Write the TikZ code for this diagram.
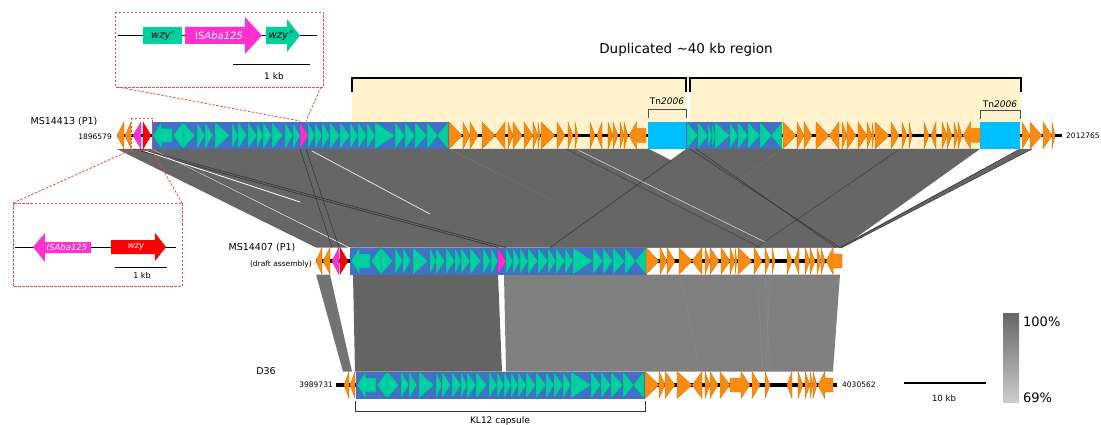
\documentclass[tikz,border=0pt]{standalone}
\usepackage{fontspec}
\setmainfont{DejaVu Sans}
\definecolor{ora}{HTML}{F98C10}
\definecolor{oraD}{HTML}{C86A00}
\definecolor{tea}{HTML}{00CFA0}
\definecolor{teaD}{HTML}{1A8C8C}
\definecolor{blu}{HTML}{4270C8}
\definecolor{cya}{HTML}{00BFFF}
\definecolor{mag}{HTML}{FF30D0}
\definecolor{rd}{HTML}{FF0000}
\definecolor{ylw}{HTML}{FFF2CC}
\definecolor{homA}{HTML}{666666}
\definecolor{homB}{HTML}{646464}
\definecolor{homC}{HTML}{808080}
\definecolor{dred}{HTML}{E05050}
\newcommand\gR[4]{\filldraw[#4] ({(#1)},{(#3)-13.5}) -- ({(#2)},{(#3)}) -- ({(#1)},{(#3)+13.5}) -- cycle;}
\newcommand\gL[4]{\filldraw[#4] ({(#2)},{(#3)-13.5}) -- ({(#1)},{(#3)}) -- ({(#2)},{(#3)+13.5}) -- cycle;}
\newcommand\gLA[4]{\filldraw[#4] ({(#1)},{(#3)}) -- ({(#1)+0.45*((#2)-(#1))},{(#3)-13.5}) -- ({(#1)+0.45*((#2)-(#1))},{(#3)-7}) -- ({(#2)},{(#3)-7}) -- ({(#2)},{(#3)+7}) -- ({(#1)+0.45*((#2)-(#1))},{(#3)+7}) -- ({(#1)+0.45*((#2)-(#1))},{(#3)+13.5}) -- cycle;}
\newcommand\gRA[4]{\filldraw[#4] ({(#2)},{(#3)}) -- ({(#2)-0.45*((#2)-(#1))},{(#3)-13.5}) -- ({(#2)-0.45*((#2)-(#1))},{(#3)-7}) -- ({(#1)},{(#3)-7}) -- ({(#1)},{(#3)+7}) -- ({(#2)-0.45*((#2)-(#1))},{(#3)+7}) -- ({(#2)-0.45*((#2)-(#1))},{(#3)+13.5}) -- cycle;}
\def\patAR{449/462,463/470,470/478,482/495,508/513,513/522,524/533,533/538,538/540,541/555,557/565,568/573,575/578,590/595,608/613,613/618,620/624,624/628}
\def\patAL{495/505,597/602}
\def\blAR{183/195,197/205,205/213,215/230,232/238,238/247,248/257,257/263,263/272,272/283,285/293,293/300}
\def\blBR{308/315,315/322,322/330,330/340,340/350,350/358,358/367,367/375,375/395,395/405,405/415,415/427,427/438}
\begin{document}
\begin{tikzpicture}[x=1pt,y=-1pt,
  gora/.style={fill=ora,draw=oraD,line width=0.25pt},
  gtea/.style={fill=tea,draw=teaD,line width=0.3pt},
  gmag/.style={fill=mag,draw=mag!70!black,line width=0.25pt},
  gred/.style={fill=rd,draw=rd!70!black,line width=0.25pt},
  lbl/.style={font=\fontsize{9.5}{11}\selectfont,inner sep=0pt},
  num/.style={font=\fontsize{7.5}{9}\selectfont,inner sep=0pt},
  dashbox/.style={draw=dred,dash pattern=on 2.5pt off 1.5pt,line width=0.9pt},
  bk/.style={draw=black!80,line width=0.5pt},
  wl/.style={draw=white,line width=0.8pt}]
\useasboundingbox (0,0) rectangle (1101,425);
\fill[white] (0,0) rectangle (1101,425);
% duplicated region background
\fill[ylw] (352,78) rectangle (686,149);
\fill[ylw] (690,78) rectangle (1021,149);
% ---------- homology upper ----------
\fill[homA] (117,149) -- (151,149) -- (348,247.5) -- (316,247.5) -- cycle;
\fill[homA] (152,149) -- (449,149) -- (647,247.5) -- (350,247.5) -- cycle;
\fill[homA] (449,149) -- (649,149) -- (842,247.5) -- (646,247.5) -- cycle;
\fill[homA] (686,149) -- (782,149) -- (647,247.5) -- (550,247.5) -- cycle;
\fill[homA] (782,149) -- (980,149) -- (842,247.5) -- (646,247.5) -- cycle;
\fill[homA] (1020,149) -- (1032,149) -- (842,247.5) -- (838,247.5) -- cycle;
\draw[bk,line width=0.6pt] (133,149) -- (498,247.5);
\draw[bk,line width=0.6pt] (140,149) -- (506,247.5);
\draw[bk] (300,149) -- (332,247.5);
\draw[bk] (306,149) -- (339,247.5);
\draw[bk] (672,160) -- (550,247.5);
\draw[bk] (690,149) -- (840,247.5);
\draw[bk] (696,149) -- (836,247.5);
\draw[bk] (1020,149) -- (840,247.5);
\draw[bk] (1032,149) -- (842,247.5);
\draw[bk,line width=0.35pt] (900,149) -- (756,247.5);
\draw[bk,line width=0.35pt] (566,149) -- (760,247.5);
\draw[wl] (145,151) -- (300,202);
\draw[wl,opacity=0.8] (312,151) -- (430,214);
\draw[wl,opacity=0.7,line width=0.6pt] (578,150) -- (765,242);
% ---------- homology lower ----------
\fill[homC!90!black] (316,274.5) -- (330,274.5) -- (352,371.5) -- (343,371.5) -- cycle;
\fill[homB] (353,274.5) -- (498,274.5) -- (502,371.5) -- (355,371.5) -- cycle;
\fill[homC] (504,274.5) -- (840,274.5) -- (833,371.5) -- (506,371.5) -- cycle;
\draw[black!45,line width=0.4pt] (680,274.5) -- (700,371.5);
\draw[black!45,line width=0.4pt] (757,274.5) -- (763,371.5);
\draw[black!45,line width=0.4pt] (765,274.5) -- (770,371.5);
\draw[black!45,line width=0.4pt] (770,274.5) -- (766,371.5);
% ---------- track 1 MS14413 ----------
\draw[line width=3.5pt] (117,135.5) -- (1062,135.5);
\fill[blu] (152,122) rectangle (449,149);
\fill[blu] (686,122) rectangle (782,149);
\fill[cya] (648,122) rectangle (686,149);
\fill[cya] (980,122) rectangle (1020,149);
\gL{117}{124}{135.5}{gora}
\gL{125}{131}{135.5}{gora}
\gL{133}{141}{135.5}{gmag}
\gR{143}{151}{135.5}{gred}
\gLA{153}{172}{135.5}{gtea}
\gL{173}{183}{135.5}{gtea}
\foreach \a/\b in \blAR {\gR{\a}{\b}{135.5}{gtea}}
\gR{300}{308}{135.5}{gmag}
\foreach \a/\b in \blBR {\gR{\a}{\b}{135.5}{gtea}}
\gL{437}{448}{135.5}{gtea}
\foreach \a/\b in {687/698,698/708,708/712,712/715,715/730,730/738,738/748,748/760,760/772} {\gR{\a}{\b}{135.5}{gtea}}
\gL{771}{782}{135.5}{gtea}
\foreach \a/\b in \patAR {\gR{\a}{\b}{135.5}{gora}}
\foreach \a/\b in \patAL {\gL{\a}{\b}{135.5}{gora}}
\gLA{629}{646}{135.5}{gora}
\foreach \a/\b in \patAR {\gR{\a+334}{\b+334}{135.5}{gora}}
\foreach \a/\b in \patAL {\gL{\a+334}{\b+334}{135.5}{gora}}
\gLA{963}{980}{135.5}{gora}
\foreach \a/\b in {1022/1030,1030/1042,1043/1052,1052/1055} {\gR{\a}{\b}{135.5}{gora}}
% ---------- track 2 MS14407 ----------
\draw[line width=3.5pt] (316,261) -- (840,261);
\fill[blu] (350,247.5) rectangle (647,274.5);
\gL{316}{322}{261}{gora}
\gL{323}{330}{261}{gora}
\gL{332}{339}{261}{gmag}
\gR{340}{348}{261}{gred}
\gLA{351}{370}{261}{gtea}
\gL{371}{381}{261}{gtea}
\foreach \a/\b in \blAR {\gR{\a+198}{\b+198}{261}{gtea}}
\gR{498}{506}{261}{gmag}
\foreach \a/\b in \blBR {\gR{\a+198}{\b+198}{261}{gtea}}
\gL{635}{646}{261}{gtea}
\foreach \a/\b in \patAR {\gR{\a+197}{\b+197}{261}{gora}}
\foreach \a/\b in \patAL {\gL{\a+197}{\b+197}{261}{gora}}
\gLA{826}{842}{261}{gora}
% ---------- track 3 D36 ----------
\draw[line width=3.5pt] (336,385) -- (837,385);
\fill[blu] (356,371.5) rectangle (645,398.5);
\gL{344}{349}{385}{gora}
\gL{350}{355}{385}{gora}
\gLA{357}{376}{385}{gtea}
\gL{377}{387}{385}{gtea}
\foreach \a/\b in \blAR {\gR{\a+204}{\b+204}{385}{gtea}}
\foreach \a/\b in \blBR {\gR{\a+196}{\b+196}{385}{gtea}}
\gL{633}{644}{385}{gtea}
\foreach \a/\b in {645/659,659/665,665/675,677/692,705/710,710/718,720/730,752/760,765/770,798/803,805/810,810/813,813/817} {\gR{\a}{\b}{385}{gora}}
\gL{692}{702}{385}{gora}
\gL{787}{792}{385}{gora}
\gRA{730}{750}{385}{gora}
\gLA{818}{833}{385}{gora}
% ---------- brackets ----------
\draw[line width=1.1pt] (352,92) -- (352,78) -- (686,78) -- (686,92);
\draw[line width=1.1pt] (690,92) -- (690,78) -- (1021,78) -- (1021,92);
\draw[black!70,line width=0.9pt] (648,118) -- (648,109) -- (686,109) -- (686,118);
\draw[black!70,line width=0.9pt] (980,119) -- (980,110) -- (1020,110) -- (1020,119);
\draw[black!80,line width=0.9pt] (355,401) -- (355,411) -- (645,411) -- (645,401);
% ---------- labels ----------
\node[font=\fontsize{13.5}{16}\selectfont,inner sep=0pt] (dup) at (686,50) {Duplicated \textasciitilde40 kb region};
\node[font=\fontsize{9}{10}\selectfont,inner sep=0pt] (tn1) at (667,101) {Tn\textit{2006}};
\node[font=\fontsize{9}{10}\selectfont,inner sep=0pt] (tn2) at (1000,104) {Tn\textit{2006}};
\node[lbl] (n1) at (64,122) {MS14413 (P1)};
\node[num,anchor=east] (s1) at (112,137) {1896579};
\node[num,anchor=west] (e1) at (1066,136) {2012765};
\node[lbl] (n2) at (262,248) {MS14407 (P1)};
\node[num,anchor=east] (d2) at (312,264) {(draft assembly)};
\node[lbl] (n3) at (266,371) {D36};
\node[num,anchor=east] (s3) at (333,385) {3989731};
\node[num,anchor=west] (e3) at (842,385) {4030562};
\node[font=\fontsize{9}{11}\selectfont,inner sep=0pt] (kl) at (500,421) {KL12 capsule};
% ---------- legend ----------
\draw[line width=1.2pt] (904,383) -- (986,383);
\node[font=\fontsize{8.5}{10}\selectfont,inner sep=0pt] (tenkb) at (944,398) {10 kb};
\shade[top color=homA,bottom color=black!20] (1003,313) rectangle (1019,402);
\node[font=\fontsize{13}{15}\selectfont,inner sep=0pt,anchor=west] (p100) at (1023,322) {100\%};
\node[font=\fontsize{13}{15}\selectfont,inner sep=0pt,anchor=west] (p69) at (1023,398) {69\%};
% ---------- inset 1 (top) ----------
\draw[dashbox] (115,12) rectangle (323,87);
\draw[line width=1.2pt] (118,35.5) -- (317,35.5);
\fill[tea] (143,27) rectangle (182,44);
\node[font=\fontsize{10}{11}\selectfont\itshape,inner sep=0pt] (wz1) at (162.5,35.5) {wzy'};
\fill[mag] (185,27) -- (245,27) -- (245,17) -- (262,35.5) -- (245,54) -- (245,44) -- (185,44) -- cycle;
\node[font=\fontsize{10}{11}\selectfont,text=white,inner sep=0pt] (is1) at (219,35.5) {IS\textit{Aba125}};
\fill[tea] (266,27) -- (287,27) -- (287,19) -- (300,35.5) -- (287,52) -- (287,44) -- (266,44) -- cycle;
\node[font=\fontsize{10}{11}\selectfont\itshape,inner sep=0pt] (wz2) at (281,35.5) {wzy''};
\draw[line width=1pt] (233,65) -- (310,65);
\node[font=\fontsize{9}{10}\selectfont,inner sep=0pt] (kb1) at (274,76) {1 kb};
\draw[dashbox,line width=0.8pt] (118,87) -- (300,121);
\draw[dashbox,line width=0.8pt] (321,87) -- (306,121);
% ---------- inset 2 (left) ----------
\draw[dashbox] (13,203) rectangle (182,286);
\draw[line width=0.8pt] (15,247) -- (176,247);
\fill[mag] (33,247) -- (45,233) -- (45,242) -- (91,242) -- (91,253) -- (45,253) -- (45,262) -- cycle;
\node[font=\fontsize{8.5}{10}\selectfont\itshape,text=white,inner sep=0pt] (is2) at (67,247) {ISAba125};
\fill[rd] (111,240) -- (155,240) -- (155,233) -- (166,247) -- (155,261) -- (155,254) -- (111,254) -- cycle;
\node[font=\fontsize{8.5}{10}\selectfont\itshape,text=white,inner sep=0pt] (wz3) at (136,247) {wzy};
\draw[line width=0.8pt] (115,267) -- (167,267);
\node[font=\fontsize{8}{10}\selectfont,inner sep=0pt] (kb2) at (142,276) {1 kb};
\draw[dashbox,line width=0.8pt] (13,203) -- (131,150);
\draw[dashbox,line width=0.8pt] (182,203) -- (152,150);
\draw[dashbox,line width=0.8pt] (131,118) rectangle (152,150);
\end{tikzpicture}
\end{document}
